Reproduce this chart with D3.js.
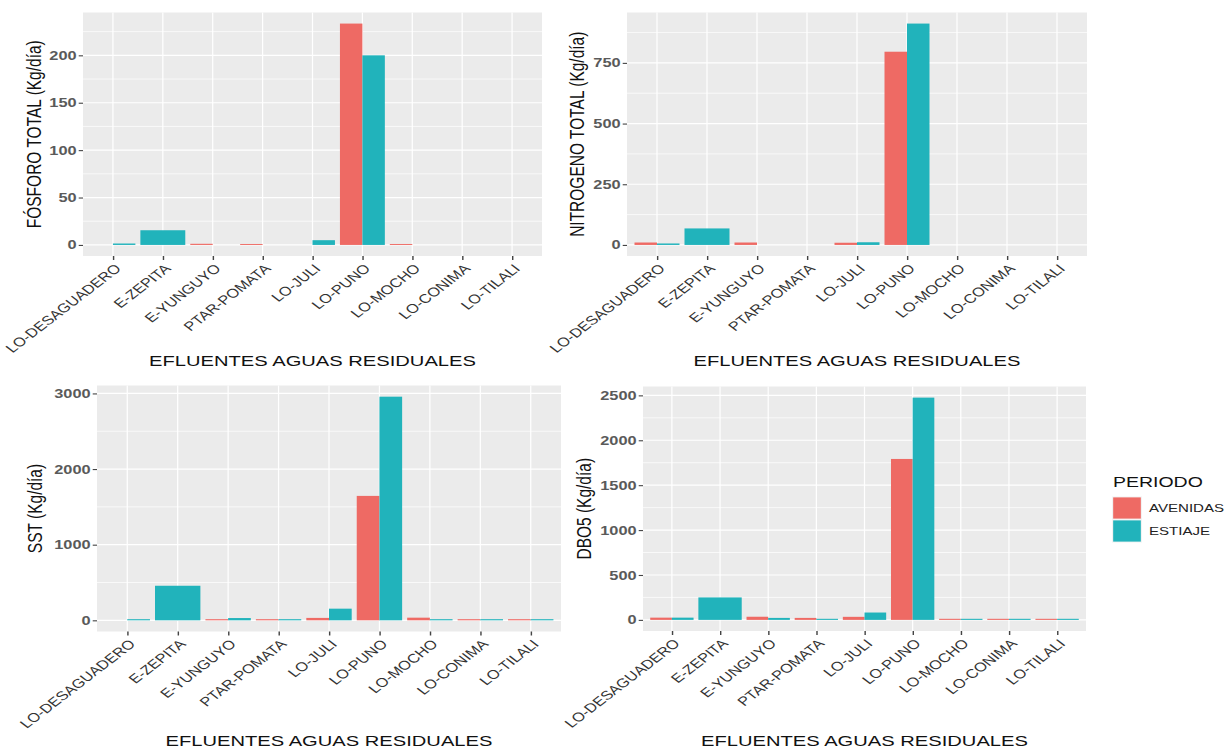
<!DOCTYPE html>
<html><head><meta charset="utf-8">
<script src="https://cdn.jsdelivr.net/npm/d3@7"></script>
<style>html,body{margin:0;padding:0;background:#fff;} svg{display:block;}</style>
</head><body>
<svg id="c" width="1229" height="749"></svg>
<script>
// ---- data ----
const categories = ["LO-DESAGUADERO","E-ZEPITA","E-YUNGUYO","PTAR-POMATA","LO-JULI","LO-PUNO","LO-MOCHO","LO-CONIMA","LO-TILALI"];
const periods = ["AVENIDAS","ESTIAJE"];
const fosforoAvenidas   = [0, null, 1.2, 1.0, 0, 233.5, 1.0, 0, 0];
const fosforoEstiaje    = [1.5, 15.5, 0, 0, 5, 200, 0, 0, 0];
const nitrogenoAvenidas = [10, null, 10, 0, 9, 796, 0, 0, 0];
const nitrogenoEstiaje  = [6, 68, 0, 0, 11, 912, 0, 0, 0];
const sstAvenidas       = [0, null, 15, 15, 32, 1645, 35, 15, 15];
const sstEstiaje        = [15, 457, 30, 15, 154, 2957, 15, 15, 15];
const dbo5Avenidas      = [25, null, 35, 22, 34, 1792, 12, 12, 12];
const dbo5Estiaje       = [25, 250, 22, 12, 82, 2475, 12, 12, 12];
const fosforoTicks   = [0, 50, 100, 150, 200];
const nitrogenoTicks = [0, 250, 500, 750];
const sstTicks       = [0, 1000, 2000, 3000];
const dbo5Ticks      = [0, 500, 1000, 1500, 2000, 2500];
const yTitles = ["FÓSFORO TOTAL (Kg/día)", "NITROGENO TOTAL (Kg/día)", "SST (Kg/día)", "DBO5 (Kg/día)"];
const xTitle = "EFLUENTES AGUAS RESIDUALES";
const legendTitle = "PERIODO";

// ---- styling / layout ----
const colors = {AVENIDAS: "#EE6A64", ESTIAJE: "#21B3BB"};
const K = 1.3; // horizontal stretch of the reference image
const X = v => v / K;
const FONT = "'Liberation Sans', Arial, sans-serif";

const panels = [
  {title: yTitles[0], av: fosforoAvenidas, es: fosforoEstiaje, ticks: fosforoTicks,
   box: {l: 83, r: 542, t: 12.5, b: 256}, titleX: 34, xTitleY: 366},
  {title: yTitles[1], av: nitrogenoAvenidas, es: nitrogenoEstiaje, ticks: nitrogenoTicks,
   box: {l: 627, r: 1087, t: 12.5, b: 256}, titleX: 577, xTitleY: 366},
  {title: yTitles[2], av: sstAvenidas, es: sstEstiaje, ticks: sstTicks,
   box: {l: 97, r: 561, t: 385.5, b: 631.5}, titleX: 35, xTitleY: 746},
  {title: yTitles[3], av: dbo5Avenidas, es: dbo5Estiaje, ticks: dbo5Ticks,
   box: {l: 643, r: 1086, t: 386.5, b: 631}, titleX: 584, xTitleY: 746}
];

const svg = d3.select("#c")
  .attr("viewBox", `0 0 ${1229 / K} 749`)
  .attr("preserveAspectRatio", "none")
  .style("font-family", FONT);

svg.append("rect").attr("x", 0).attr("y", 0).attr("width", 1229 / K).attr("height", 749).attr("fill", "#fff");

panels.forEach(p => {
  const x0 = X(p.box.l), x1 = X(p.box.r);
  const g = svg.append("g");
  const x = d3.scalePoint().domain(categories).range([x0, x1]).padding(0.6);
  const step = x.step();
  const maxV = d3.max([...p.av, ...p.es].filter(v => v != null));
  const y = d3.scaleLinear().domain([-0.05 * maxV, 1.05 * maxV]).range([p.box.b, p.box.t]);

  // panel background
  g.append("rect").attr("x", x0).attr("y", p.box.t).attr("width", x1 - x0).attr("height", p.box.b - p.box.t)
    .attr("fill", "#EBEBEB");

  // minor gridlines
  const st = p.ticks[1] - p.ticks[0];
  const minor = [p.ticks[0] - st / 2, ...p.ticks.map(t => t + st / 2)]
    .filter(v => v > y.domain()[0] && v < y.domain()[1]);
  g.selectAll(".mg").data(minor).enter().append("line")
    .attr("x1", x0).attr("x2", x1).attr("y1", d => y(d)).attr("y2", d => y(d))
    .attr("stroke", "#fff").attr("stroke-width", 0.6);
  // major gridlines
  g.selectAll(".gy").data(p.ticks).enter().append("line")
    .attr("x1", x0).attr("x2", x1).attr("y1", d => y(d)).attr("y2", d => y(d))
    .attr("stroke", "#fff").attr("stroke-width", 1.2);
  g.selectAll(".gx").data(categories).enter().append("line")
    .attr("x1", d => x(d)).attr("x2", d => x(d)).attr("y1", p.box.t).attr("y2", p.box.b)
    .attr("stroke", "#fff").attr("stroke-width", 0.95);

  // bars (position dodge, width 0.9)
  const bars = [];
  categories.forEach((c, i) => {
    const vals = [{per: "AVENIDAS", v: p.av[i]}, {per: "ESTIAJE", v: p.es[i]}].filter(d => d.v != null);
    const inner = d3.scaleBand().domain(vals.map(d => d.per)).range([-0.45 * step, 0.45 * step]);
    vals.forEach(d => bars.push({c, per: d.per, v: d.v, xl: x(c) + inner(d.per), w: inner.bandwidth()}));
  });
  g.selectAll(".bar").data(bars.filter(d => d.v > 0)).enter().append("rect")
    .attr("x", d => d.xl).attr("width", d => d.w)
    .attr("y", d => y(d.v)).attr("height", d => y(0) - y(d.v))
    .attr("fill", d => colors[d.per]);

  // y axis
  const ya = g.append("g").attr("transform", `translate(${x0},0)`)
    .call(d3.axisLeft(y).tickValues(p.ticks).tickSize(3.3).tickPadding(1.6).tickFormat(d3.format("d")));
  ya.select(".domain").remove();
  ya.selectAll(".tick line").attr("stroke", "#444").attr("stroke-width", 1.1);
  ya.selectAll(".tick text").attr("fill", "#5a5a5a").attr("font-size", 12.6).attr("font-weight", "bold")
    .attr("font-family", FONT);

  // x axis
  const xa = g.append("g").attr("transform", `translate(0,${p.box.b})`)
    .call(d3.axisBottom(x).tickSize(4));
  xa.select(".domain").remove();
  xa.selectAll(".tick line").attr("stroke", "#444").attr("stroke-width", 1.1);
  xa.selectAll(".tick text")
    .attr("x", 0).attr("y", 0).attr("dy", "0.72em")
    .attr("transform", "translate(0,7) rotate(-45)")
    .attr("text-anchor", "end")
    .attr("fill", "#333").attr("font-size", 12.6).attr("font-family", FONT);

  // axis titles
  g.append("text").attr("x", (x0 + x1) / 2).attr("y", p.xTitleY)
    .attr("text-anchor", "middle").attr("font-size", 15.5).attr("fill", "#111").text(xTitle);
  g.append("text").attr("transform", `translate(${X(p.titleX)},${(p.box.t + p.box.b) / 2}) rotate(-90)`)
    .attr("dy", "0.35em").attr("text-anchor", "middle").attr("font-size", 15.5).attr("fill", "#111").text(p.title);
});

// legend
const lg = svg.append("g");
lg.append("text").attr("x", X(1113)).attr("y", 487).attr("font-size", 15).attr("fill", "#111").text(legendTitle);
periods.forEach((per, i) => {
  const ky = 496.5 + i * 23;
  lg.append("rect").attr("x", X(1112)).attr("y", ky).attr("width", X(30)).attr("height", 23).attr("fill", "#F2F2F2");
  lg.append("rect").attr("x", X(1112) + 0.9).attr("y", ky + 0.9).attr("width", X(30) - 1.8).attr("height", 23 - 1.8)
    .attr("fill", colors[per]);
  lg.append("text").attr("x", X(1149)).attr("y", ky + 11.5).attr("dy", "0.36em")
    .attr("font-size", 11.6).attr("fill", "#222").text(per);
});
</script>
</body></html>
